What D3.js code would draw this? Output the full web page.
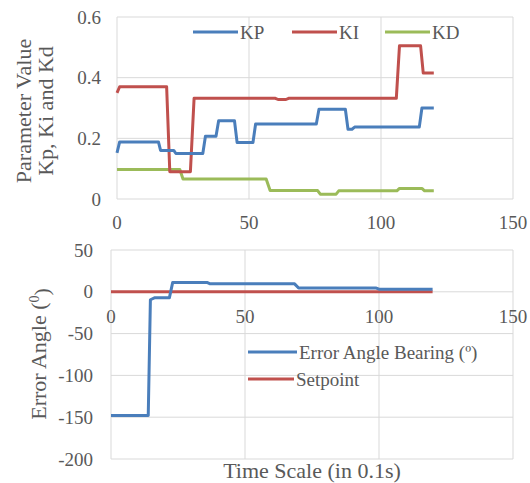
<!DOCTYPE html>
<html>
<head>
<meta charset="utf-8">
<script src="https://cdn.jsdelivr.net/npm/d3@7"></script>
<style>
  body { margin: 0; background: #fff; }
</style>
</head>
<body>
<svg id="chart" width="530" height="483"></svg>
<script>
// top chart: PID gains (breakpoints)
const kpX = [0, 1, 15.7, 16.5, 21.5, 22.3, 32.5, 33.5, 37.5, 38.5, 44.5, 45.5, 51.5, 52.5, 75.5, 76.5, 86.5, 87.5, 89, 90, 114.5, 115.5, 120];
const kpY = [0.152, 0.188, 0.188, 0.16, 0.16, 0.15, 0.15, 0.207, 0.207, 0.258, 0.258, 0.186, 0.186, 0.247, 0.247, 0.296, 0.296, 0.23, 0.23, 0.237, 0.237, 0.3, 0.3];
const kiX = [0, 1, 18.8, 20, 27.8, 29.2, 60, 61, 64, 65, 105.8, 107, 115, 116, 120];
const kiY = [0.35, 0.37, 0.37, 0.09, 0.09, 0.332, 0.332, 0.328, 0.328, 0.332, 0.332, 0.505, 0.505, 0.415, 0.415];
const kdX = [0, 23.8, 25, 56.5, 58, 76, 77, 83, 84, 106, 107, 115.5, 116.5, 120];
const kdY = [0.097, 0.097, 0.066, 0.066, 0.028, 0.028, 0.016, 0.016, 0.027, 0.027, 0.035, 0.035, 0.027, 0.027];

// bottom chart: error angle
const errX = [0, 13.9, 14.7, 16.4, 21.8, 23, 36, 37, 68.5, 70, 99, 100, 120];
const errY = [-148, -148, -9.5, -7, -7, 11, 11, 9.5, 9.5, 4.5, 4.5, 3.2, 3.2];
const spX = [0, 120];
const spY = [0, 0];

const xTicks = [0, 50, 100, 150];
const topYTicks = [0, 0.2, 0.4, 0.6];
const botYTicks = [50, 0, -50, -100, -150, -200];

const blue = "#4a7ebb", red = "#c0504d", green = "#9bbb59", grid = "#d9d9d9", ink = "#595959";
const font = "Liberation Serif";

const svg = d3.select("#chart");

function zip(xs, ys) { return xs.map((x, i) => [x, ys[i]]); }

// ---------- top panel ----------
const x1 = d3.scaleLinear().domain([0, 150]).range([117, 513]);
const y1 = d3.scaleLinear().domain([0, 0.6]).range([199, 17]);

const g1 = svg.append("g").attr("fill", ink).attr("font-family", font);
g1.selectAll(".hg").data(topYTicks).enter().append("line")
  .attr("x1", x1(0)).attr("x2", x1(150))
  .attr("y1", d => y1(d)).attr("y2", d => y1(d))
  .attr("stroke", grid).attr("stroke-width", 1);
g1.selectAll(".vg").data(xTicks).enter().append("line")
  .attr("x1", d => x1(d)).attr("x2", d => x1(d))
  .attr("y1", y1(0)).attr("y2", y1(0.6))
  .attr("stroke", grid).attr("stroke-width", 1);

g1.selectAll(".yt").data(topYTicks).enter().append("text")
  .attr("x", 101).attr("y", d => y1(d)).attr("dy", "0.35em")
  .attr("text-anchor", "end").attr("font-size", 19)
  .text(d => d === 0 ? "0" : d.toFixed(1));
g1.selectAll(".xt").data(xTicks).enter().append("text")
  .attr("x", d => x1(d)).attr("y", 229)
  .attr("text-anchor", "middle").attr("font-size", 19)
  .text(d => d);

const line1 = d3.line().x(d => x1(d[0])).y(d => y1(d[1]));
[[kdX, kdY, green], [kiX, kiY, red], [kpX, kpY, blue]].forEach(([xs, ys, c]) => {
  g1.append("path").datum(zip(xs, ys))
    .attr("d", line1).attr("fill", "none")
    .attr("stroke", c).attr("stroke-width", 3).attr("stroke-linejoin", "round");
});

// y title (two lines)
const t1 = g1.append("text").attr("transform", "translate(23,111) rotate(-90)")
  .attr("text-anchor", "middle").attr("font-size", 22);
t1.append("tspan").attr("x", 0).attr("dy", "0.35em").text("Parameter Value");
t1.append("tspan").attr("x", 0).attr("dy", "1em").text("Kp, Ki and Kd");

// legend
const leg1 = [["KP", blue, 193], ["KI", red, 292], ["KD", green, 385]];
leg1.forEach(([name, c, lx]) => {
  g1.append("line").attr("x1", lx).attr("x2", lx + 45).attr("y1", 32).attr("y2", 32)
    .attr("stroke", c).attr("stroke-width", 3);
  g1.append("text").attr("x", lx + 47).attr("y", 32).attr("dy", "0.35em")
    .attr("font-size", 19).text(name);
});

// ---------- bottom panel ----------
const x2 = d3.scaleLinear().domain([0, 150]).range([111, 513]);
const y2 = d3.scaleLinear().domain([-200, 50]).range([459, 250]);

const g2 = svg.append("g").attr("fill", ink).attr("font-family", font);
g2.selectAll(".hg").data(botYTicks).enter().append("line")
  .attr("x1", x2(0)).attr("x2", x2(150))
  .attr("y1", d => y2(d)).attr("y2", d => y2(d))
  .attr("stroke", grid).attr("stroke-width", 1);
g2.selectAll(".vg").data(xTicks).enter().append("line")
  .attr("x1", d => x2(d)).attr("x2", d => x2(d))
  .attr("y1", y2(-200)).attr("y2", y2(50))
  .attr("stroke", grid).attr("stroke-width", 1);

g2.selectAll(".yt").data(botYTicks).enter().append("text")
  .attr("x", 93).attr("y", d => y2(d)).attr("dy", "0.35em")
  .attr("text-anchor", "end").attr("font-size", 19)
  .text(d => d);
g2.selectAll(".xt").data(xTicks).enter().append("text")
  .attr("x", d => x2(d)).attr("y", y2(0) + 31)
  .attr("text-anchor", "middle").attr("font-size", 19)
  .text(d => d);

const line2 = d3.line().x(d => x2(d[0])).y(d => y2(d[1]));
[[spX, spY, red], [errX, errY, blue]].forEach(([xs, ys, c]) => {
  g2.append("path").datum(zip(xs, ys))
    .attr("d", line2).attr("fill", "none")
    .attr("stroke", c).attr("stroke-width", 3).attr("stroke-linejoin", "round");
});

const t2 = g2.append("text").attr("transform", "translate(38,354) rotate(-90)")
  .attr("text-anchor", "middle").attr("font-size", 22);
t2.append("tspan").attr("dy", "0.35em").text("Error Angle (");
t2.append("tspan").attr("dy", "-0.45em").attr("font-size", 14).text("0");
t2.append("tspan").attr("dy", "0.45em").text(")");

g2.append("text").attr("x", 312).attr("y", 478)
  .attr("text-anchor", "middle").attr("font-size", 22)
  .text("Time Scale (in 0.1s)");

const leg2 = [["Error Angle Bearing (º)", blue, 352, 49], ["Setpoint", red, 379, 46]];
leg2.forEach(([name, c, ly, len]) => {
  g2.append("line").attr("x1", 248).attr("x2", 248 + len).attr("y1", ly).attr("y2", ly)
    .attr("stroke", c).attr("stroke-width", 3);
  g2.append("text").attr("x", 250 + len).attr("y", ly).attr("dy", "0.35em")
    .attr("font-size", 19).text(name);
});
</script>
</body>
</html>
